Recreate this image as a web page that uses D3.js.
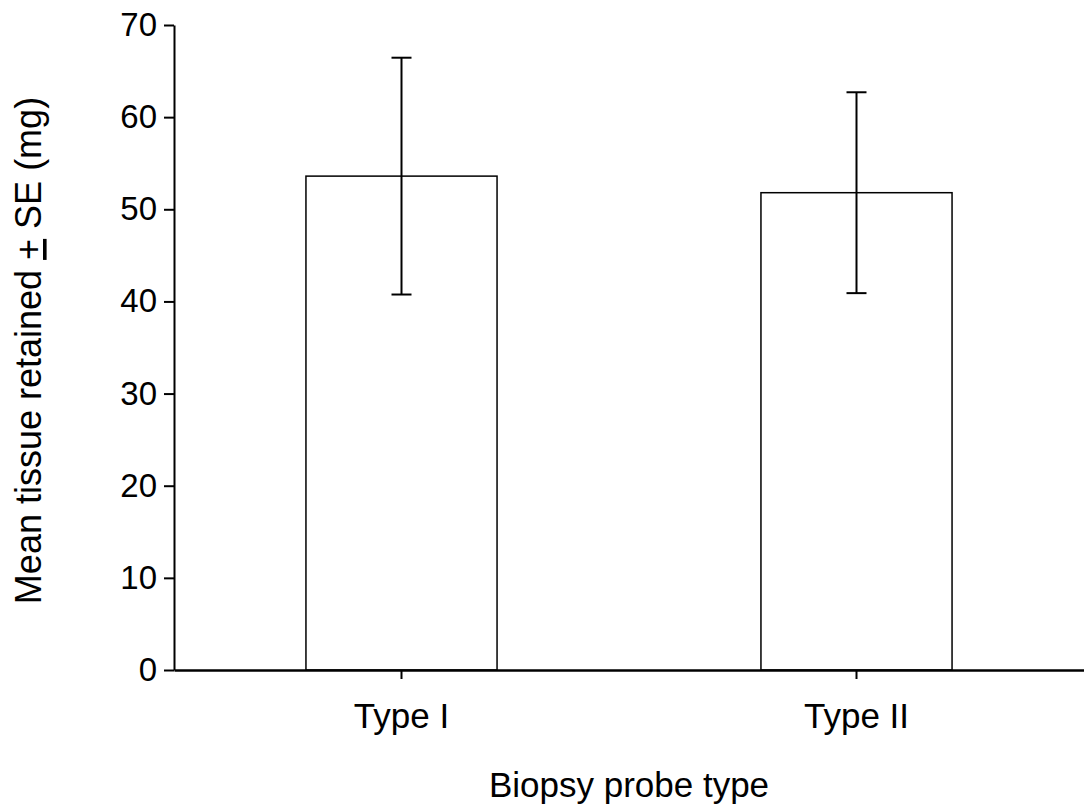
<!DOCTYPE html>
<html>
<head>
<meta charset="utf-8">
<script src="https://cdn.jsdelivr.net/npm/d3@7"></script>
<style>
  html, body { margin: 0; padding: 0; background: #fff; }
  svg { display: block; font-family: "Liberation Sans", Arial, sans-serif; }
</style>
</head>
<body>
<svg id="chart" width="1084" height="810"></svg>
<script>
const categories = ["Type I", "Type II"];
const means = [53.6, 51.8];
const se = [12.85, 10.9];
const yTicks = [0, 10, 20, 30, 40, 50, 60, 70];

const svg = d3.select("#chart");
const x0 = 174, x1 = 1084, yTop = 25, yBot = 670;
const FS = 33, FT = 35;

const x = d3.scaleBand().domain(categories).range([x0, x1])
  .paddingInner(0.58).paddingOuter(0.29);
const y = d3.scaleLinear().domain([0, 70]).range([yBot, yTop]);

// bars
svg.append("g").selectAll("rect").data(categories).join("rect")
  .attr("x", d => x(d))
  .attr("y", (d, i) => y(means[i]))
  .attr("width", x.bandwidth())
  .attr("height", (d, i) => y(0) - y(means[i]))
  .attr("fill", "#fff").attr("stroke", "#000").attr("stroke-width", 1.5);

// error bars
const eb = svg.append("g").attr("stroke", "#000").attr("stroke-width", 2);
categories.forEach((c, i) => {
  const cx = x(c) + x.bandwidth() / 2;
  const hi = y(means[i] + se[i]), lo = y(means[i] - se[i]);
  eb.append("line").attr("x1", cx).attr("x2", cx).attr("y1", hi).attr("y2", lo);
  eb.append("line").attr("x1", cx - 10).attr("x2", cx + 10).attr("y1", hi).attr("y2", hi);
  eb.append("line").attr("x1", cx - 10).attr("x2", cx + 10).attr("y1", lo).attr("y2", lo);
});

// y axis
const yAxis = svg.append("g").attr("transform", `translate(${x0},0)`)
  .call(d3.axisLeft(y).tickValues(yTicks).tickSize(10).tickPadding(7).tickSizeOuter(0));
yAxis.attr("font-size", FS).attr("font-family", "Liberation Sans, Arial, sans-serif");
yAxis.select(".domain").attr("stroke-width", 2);
yAxis.selectAll(".tick line").attr("stroke-width", 2);
yAxis.selectAll(".tick text").attr("fill", "#000");

// x axis
const xAxis = svg.append("g").attr("transform", `translate(0,${yBot})`)
  .call(d3.axisBottom(x).tickSize(9).tickPadding(30).tickSizeOuter(0));
xAxis.attr("font-size", FT).attr("font-family", "Liberation Sans, Arial, sans-serif");
xAxis.select(".domain").attr("stroke-width", 2.5);
xAxis.selectAll(".tick line").attr("stroke-width", 2);
xAxis.selectAll(".tick text").attr("fill", "#000").attr("dy", null).attr("y", 58);

// x title
svg.append("text").attr("x", (x0 + x1) / 2).attr("y", 797)
  .attr("text-anchor", "middle").attr("font-size", FT).attr("fill", "#000")
  .text("Biopsy probe type");

// y title
const yt = svg.append("text")
  .attr("transform", `translate(41,${(yTop + yBot) / 2 + 3}) rotate(-90)`)
  .attr("text-anchor", "middle").attr("font-size", 36).attr("fill", "#000");
yt.append("tspan").text("Mean tissue retained ");
yt.append("tspan").attr("text-decoration", "underline").text("+");
yt.append("tspan").text(" SE (mg)");
</script>
</body>
</html>
